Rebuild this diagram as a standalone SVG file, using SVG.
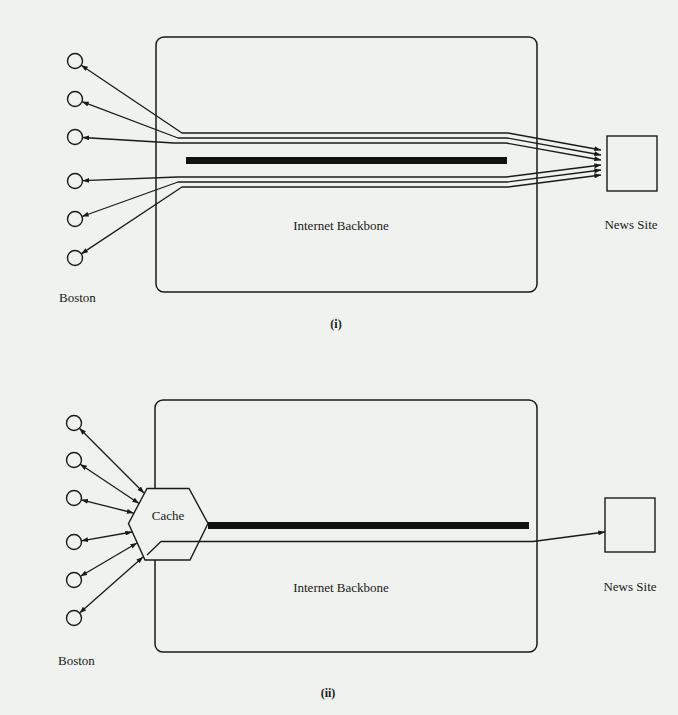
<svg xmlns="http://www.w3.org/2000/svg" width="678" height="715" viewBox="0 0 678 715">
<defs>
<marker id="ah" viewBox="0 0 8 6" refX="8" refY="3" markerWidth="7" markerHeight="5" markerUnits="userSpaceOnUse" orient="auto-start-reverse">
<path d="M0,0 L8,3 L0,6 z" fill="#1a1a1a"/>
</marker>
<style>
.box{fill:none;stroke:#1a1a1a;stroke-width:1.5}
.nd{fill:#eff2ee;stroke:#1a1a1a;stroke-width:1.4}
.ln{fill:none;stroke:#1a1a1a;stroke-width:1.3;stroke-linejoin:round}
.arr{marker-start:url(#ah);marker-end:url(#ah)}
.bar{fill:#111}
.t{font-family:"Liberation Serif","Times New Roman",serif;font-size:13px;fill:#1a1a1a}
.c{text-anchor:middle}
.cap{font-family:"Liberation Serif","Times New Roman",serif;font-size:12px;font-weight:bold;fill:#1a1a1a;text-anchor:middle}
</style>
</defs>
<rect width="678" height="715" fill="#eff2ee"/>

<!-- Panel (i) -->
<g id="backbone1">
<rect class="box" x="156" y="37" width="381" height="255" rx="8"/>
<rect class="bar" x="186" y="157" width="321" height="7"/>
<text class="t c" x="341" y="230">Internet Backbone</text>
</g>
<g id="news1">
<rect class="nd" x="607" y="136" width="50" height="55"/>
<text class="t c" x="631" y="229">News Site</text>
</g>
<g id="boston1">
<circle class="nd" cx="75" cy="61" r="7.5"/>
<circle class="nd" cx="75" cy="99" r="7.5"/>
<circle class="nd" cx="75" cy="137" r="7.5"/>
<circle class="nd" cx="75" cy="181" r="7.5"/>
<circle class="nd" cx="75" cy="219" r="7.5"/>
<circle class="nd" cx="75" cy="258" r="7.5"/>
<text class="t" x="59" y="302">Boston</text>
</g>
<g id="connectors1">
<path class="ln arr" d="M81.2,65.2 L182,133 L508,133 L601,150"/>
<path class="ln arr" d="M82,101.7 L178,138 L507,138 L601,155"/>
<path class="ln arr" d="M82.5,137.5 L174,143 L506,143 L601,160"/>
<path class="ln arr" d="M82.5,180.7 L178,177 L506,177 L601,165"/>
<path class="ln arr" d="M82,216.5 L178,182 L507,182 L601,170"/>
<path class="ln arr" d="M81.2,253.9 L182,187 L508,187 L601,175"/>
</g>
<text class="cap" x="336" y="328">(i)</text>

<!-- Panel (ii) -->
<g id="backbone2">
<rect class="box" x="155" y="400" width="382" height="252" rx="8"/>
<text class="t c" x="341" y="592">Internet Backbone</text>
</g>
<g id="news2">
<rect class="nd" x="605" y="498" width="50" height="54"/>
<text class="t c" x="630" y="591">News Site</text>
</g>
<g id="boston2">
<circle class="nd" cx="74" cy="423" r="7.5"/>
<circle class="nd" cx="74" cy="460" r="7.5"/>
<circle class="nd" cx="74" cy="498" r="7.5"/>
<circle class="nd" cx="74" cy="542" r="7.5"/>
<circle class="nd" cx="74" cy="580" r="7.5"/>
<circle class="nd" cx="74" cy="618" r="7.5"/>
<text class="t" x="58" y="665">Boston</text>
</g>
<g id="cache">
<polygon class="nd" points="147,488.5 189,488.5 208,523.5 190,560 145,560 128.5,523.5"/>
<text class="t c" x="168" y="520">Cache</text>
</g>
<g id="connectors2">
<rect class="bar" x="208" y="522" width="321" height="7"/>
<path class="ln arr" d="M79.4,428.2 L144,493"/>
<path class="ln arr" d="M80.2,464.2 L139,503.5"/>
<path class="ln arr" d="M81.3,499.8 L133.5,513"/>
<path class="ln arr" d="M81.4,540.8 L132,532"/>
<path class="ln arr" d="M80.5,576.2 L137,543"/>
<path class="ln arr" d="M79.6,613 L143,557"/>
<path class="ln" d="M147,555 L161,541.5 L533,541.5 L605,532" marker-end="url(#ah)"/>
</g>
<text class="cap" x="328" y="697">(ii)</text>
</svg>
